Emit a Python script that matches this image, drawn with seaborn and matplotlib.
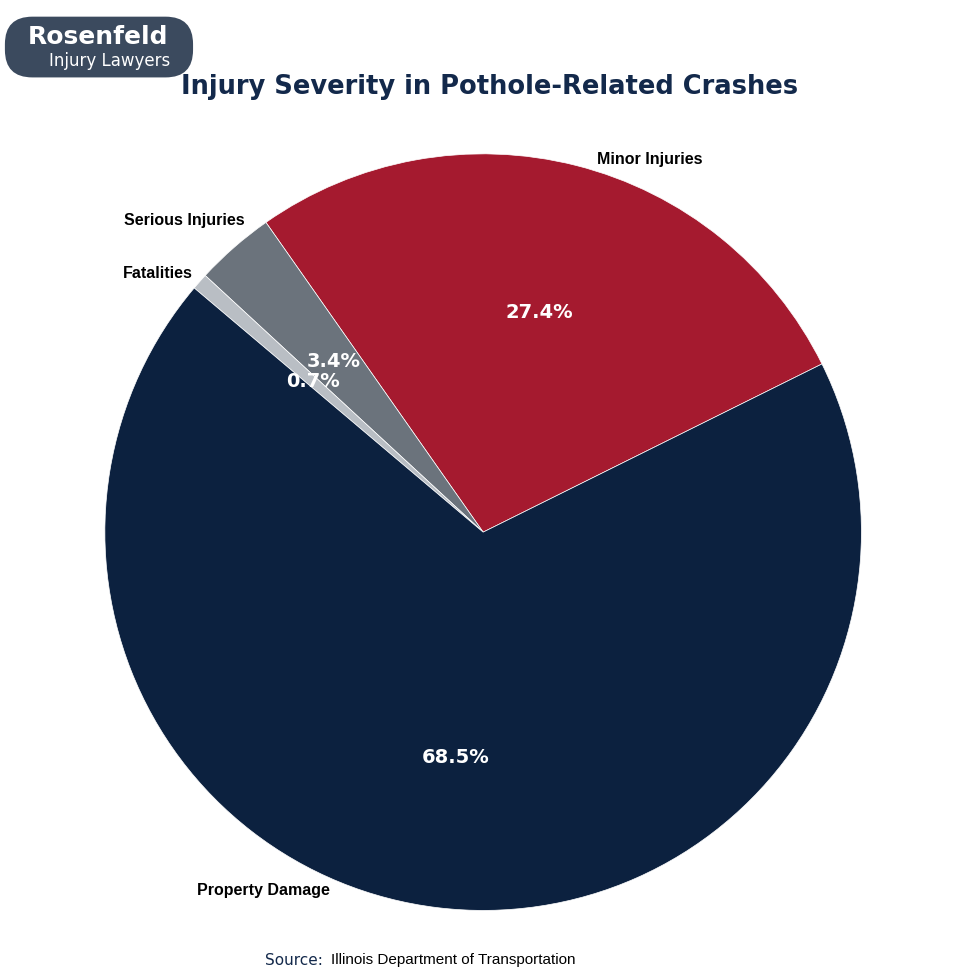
import matplotlib.pyplot as plt
import seaborn as sns
from matplotlib.patches import FancyBboxPatch

sns.set_theme(style="white")

# injury severity shares (%)
categories = ["Minor Injuries", "Serious Injuries", "Fatalities", "Property Damage"]
shares = [27.4, 3.4, 0.7, 68.5]
colors = ["#a51a2f", "#6b737c", "#b9bec4", "#0c213f"]
# outside label positions (as in the source chart, not at slice midpoints)
label_pos = [(0.44, 0.985), (-0.79, 0.825), (-0.86, 0.685), (-0.58, -0.948)]

fig = plt.figure(figsize=(9.8, 9.8), dpi=100)
ax = fig.add_axes([0.107, 0.071, 0.772, 0.772])

wedges, texts, autotexts = ax.pie(
    shares, labels=categories, colors=colors, startangle=26.4,
    autopct="%1.1f%%", pctdistance=0.6, labeldistance=1.06,
    wedgeprops={"edgecolor": "white", "linewidth": 0.5},
    textprops={"fontsize": 11.5, "fontweight": "bold", "color": "black", "family": "Liberation Sans"},
)
for t, p in zip(texts, label_pos):
    t.set_position(p)
    t.set_ha("center")
    t.set_va("center")
for t in autotexts:
    t.set_color("white")
    t.set_fontsize(14)
    t.set_family("DejaVu Sans")
ax.set_aspect("equal")
ax.set_xlim(-1, 1)
ax.set_ylim(-1, 1)

fig.text(0.5, 0.911, "Injury Severity in Pothole-Related Crashes", ha="center", va="center",
         fontsize=18.5, fontweight="bold", color="#13294b")
fig.text(0.27, 0.02, "Source:", ha="left", va="center", fontsize=11, color="#13294b")
fig.text(0.338, 0.02, "Illinois Department of Transportation", ha="left", va="center",
         fontsize=11, color="black", family="Liberation Sans")

# logo badge
badge = FancyBboxPatch((0.005, 0.921), 0.192, 0.062, boxstyle="round,pad=0,rounding_size=0.028",
                       transform=fig.transFigure, facecolor="#3b4a5e", edgecolor="none")
fig.patches.append(badge)
fig.text(0.028, 0.962, "Rosenfeld", ha="left", va="center", fontsize=18, fontweight="bold", color="white")
fig.text(0.05, 0.938, "Injury Lawyers", ha="left", va="center", fontsize=12, color="white")

fig.savefig("out.png", dpi=100)
